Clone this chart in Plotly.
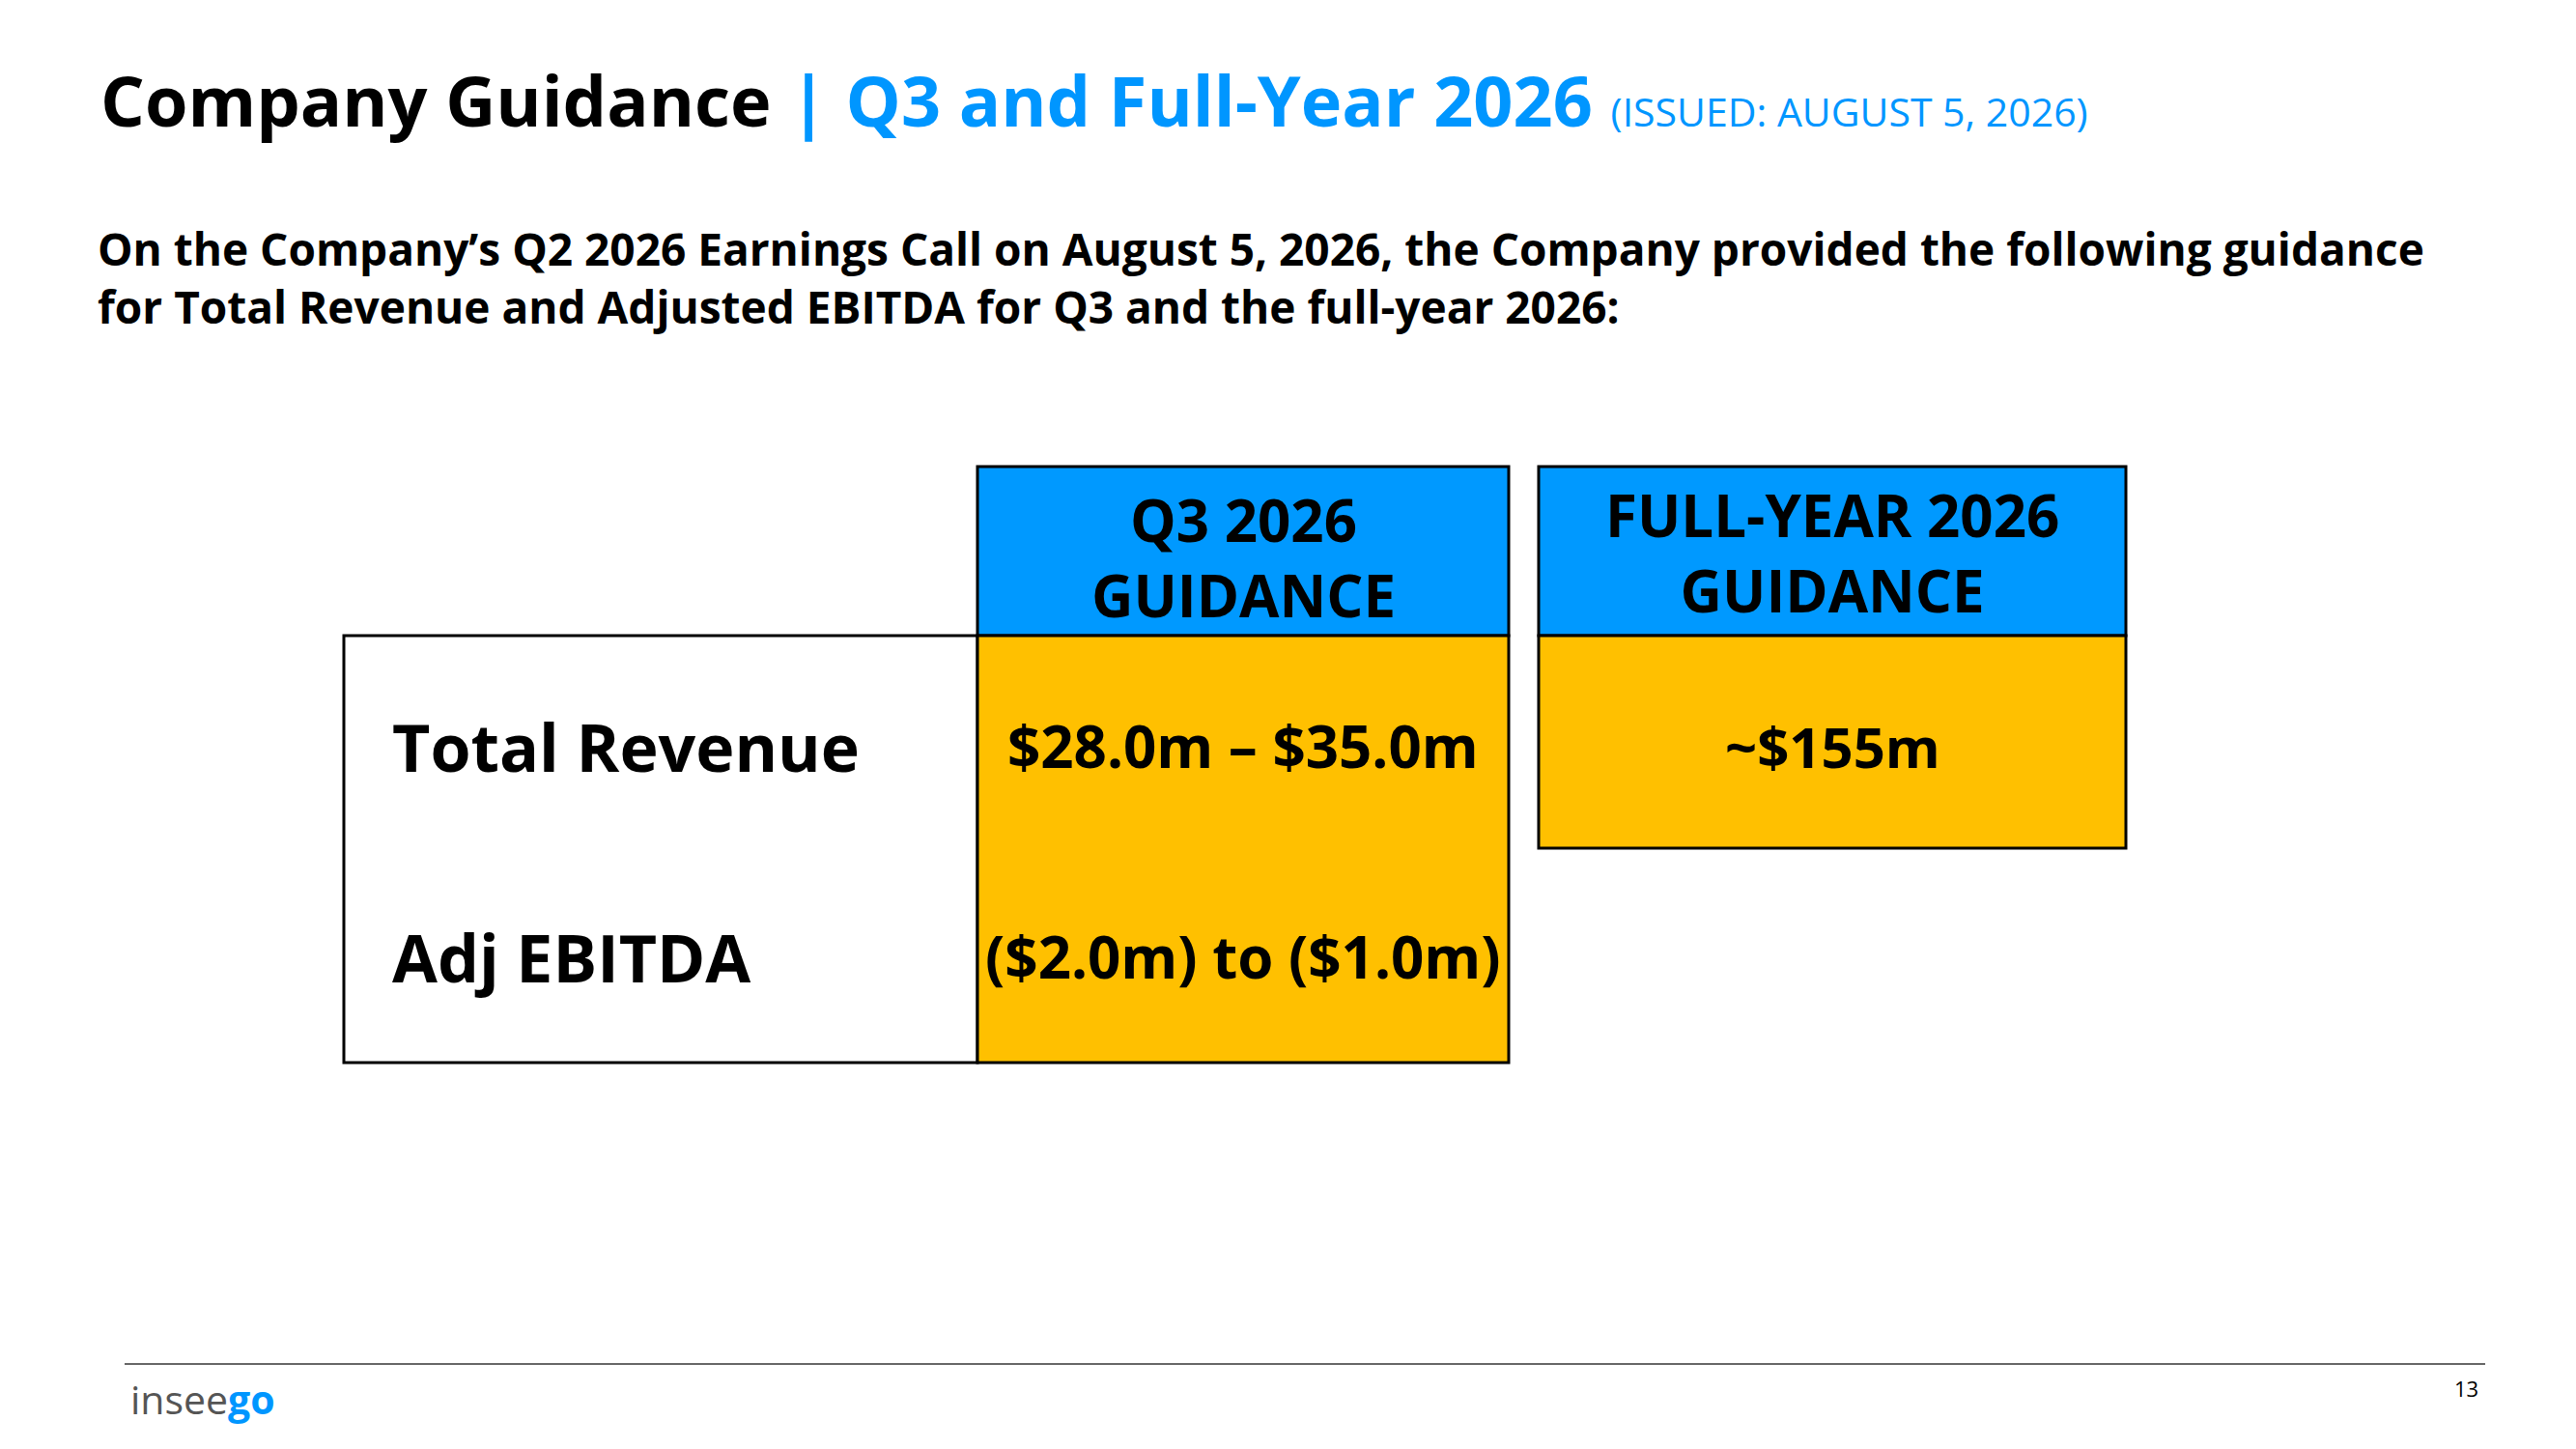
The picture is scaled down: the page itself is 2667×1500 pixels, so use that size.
import plotly.graph_objects as go

# Slide text / table content
title_main = "Company Guidance"
title_period = "Q3 and Full-Year 2026"
title_issued = "(ISSUED: AUGUST 5, 2026)"
intro_lines = [
    "On the Company\u2019s Q2 2026 Earnings Call on August 5, 2026, the Company provided the following guidance",
    "for Total Revenue and Adjusted EBITDA for Q3 and the full-year 2026:",
]
row_labels = ["Total Revenue", "Adj EBITDA"]
col_headers = [["Q3 2026", "GUIDANCE"], ["FULL-YEAR 2026", "GUIDANCE"]]
q3_values = ["$28.0m \u2013 $35.0m", "($2.0m) to ($1.0m)"]
fy_values = ["~$155m"]
page_number = "13"

# Layout (pixel grid of the slide); the page body has an 8px margin,
# so the axes are shifted to keep slide pixels = screen pixels
W, H = 2667, 1500
PAD = 8
FONT = "Open Sans"
BLUE = "#0096FF"
HEAD_BLUE = "#0099FF"
YELLOW = "#FFC000"

label_x = (356, 1012)
q3_x = (1012, 1562)
fy_x = (1593, 2201)
head_y = (483, 658)
q3_body_y = (658, 1100)
fy_body_y = (658, 878)
row_y = [772, 990]
head_mid_y = [577, 572]

fig = go.Figure()
fig.update_layout(
    width=W - 2 * PAD, height=H - 2 * PAD,
    margin=dict(l=0, r=0, t=0, b=0),
    paper_bgcolor="white", plot_bgcolor="white",
    showlegend=False,
    xaxis=dict(range=[PAD, W - PAD], visible=False, fixedrange=True),
    yaxis=dict(range=[H - PAD, PAD], visible=False, fixedrange=True),
)


def box(x, y, fill):
    fig.add_shape(
        type="rect", x0=x[0], x1=x[1], y0=y[0], y1=y[1],
        xref="x", yref="y", fillcolor=fill,
        line=dict(color="black", width=3), layer="below",
    )


def label(text, x, y, size, color="black", xanchor="center", bold=True, align="center"):
    if bold:
        text = f"<b>{text}</b>"
    fig.add_annotation(
        x=x, y=y, xref="x", yref="y", text=text, showarrow=False,
        xanchor=xanchor, yanchor="middle", align=align,
        font=dict(family=FONT, size=size, color=color),
    )


# Title
title_html = (
    f"<b>{title_main}</b>"
    f"<span style='color:{BLUE}'><b> | {title_period}</b>"
    f" <span style='font-size:41px'>{title_issued}</span></span>"
)
label(title_html, 102, 103, 72, xanchor="left", bold=False)

# Intro paragraph
label("<br>".join(intro_lines), 99, 287, 46, xanchor="left", align="left")

# Table cells
box(label_x, q3_body_y, "white")
box(q3_x, head_y, HEAD_BLUE)
box(q3_x, q3_body_y, YELLOW)
box(fy_x, head_y, HEAD_BLUE)
box(fy_x, fy_body_y, YELLOW)

for cols, lines, y in zip([q3_x, fy_x], col_headers, head_mid_y):
    label("<br>".join(lines), sum(cols) / 2, y, 60)

for name, y in zip(row_labels, row_y):
    label(name, 404, y, 68, xanchor="left")
for val, y in zip(q3_values, row_y):
    label(val, sum(q3_x) / 2, y, 60)
for val, y in zip(fy_values, row_y):
    label(val, sum(fy_x) / 2, y, 58)

# Footer
fig.add_shape(type="line", x0=129, x1=2573, y0=1412, y1=1412,
              xref="x", yref="y", line=dict(color="#666666", width=2))
label(f"<span style='color:#555555'>insee</span><b><span style='color:{BLUE}'>go</span></b>",
      133, 1448, 41, xanchor="left", bold=False)
label(page_number, 2568, 1437, 22, xanchor="right", bold=False)

fig.write_html("out.html")
